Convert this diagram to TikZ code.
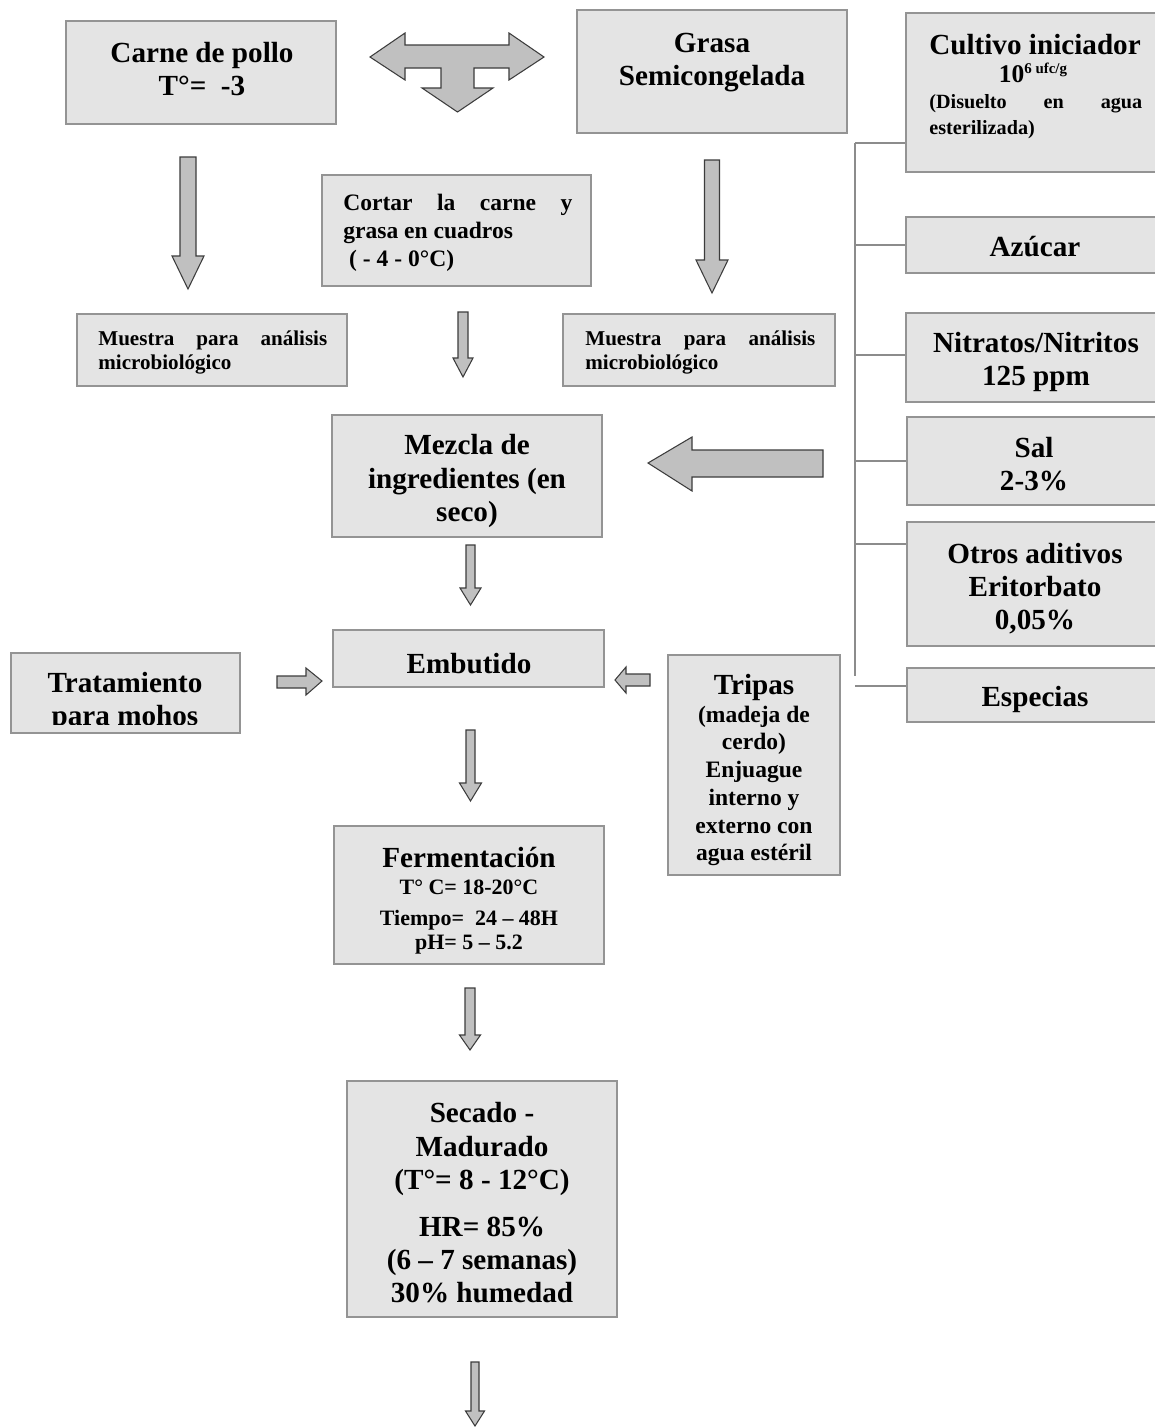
\documentclass[tikz,border=0pt]{standalone}
\usepackage{fontspec}
\setmainfont{Liberation Serif}
\usetikzlibrary{fit}
\definecolor{boxfill}{HTML}{E4E4E4}
\definecolor{boxline}{HTML}{949494}
\definecolor{arrfill}{HTML}{C0C0C0}
\definecolor{arrline}{HTML}{3C3C3C}
\definecolor{busline}{HTML}{8C8C8C}
\newcommand\fBig{\fontsize{16.6}{18.8}\selectfont}
\newcommand\fMed{\fontsize{13.4}{15.8}\selectfont}
\newcommand\fSm{\fontsize{12}{13.7}\selectfont}
\newcommand\procbox[5]{\node[box,fit={(#2,#3) (#4,#5)}] (#1) {};}
% down block arrow: x, ytop, yheadbase, ytip, shaft half width, head half width
\newcommand\downblk[6]{\draw[blk] (#1-#5,#2) -- (#1+#5,#2) -- (#1+#5,#3) -- (#1+#6,#3) -- (#1,#4) -- (#1-#6,#3) -- (#1-#5,#3) -- cycle;}
\begin{document}
\begin{tikzpicture}[x=0.02cm,y=-0.02cm,
  box/.style={draw=boxline,fill=boxfill,line width=0.8pt,inner sep=0pt},
  txt/.style={inner sep=0pt,align=center},
  txl/.style={inner sep=0pt,align=left,anchor=west},
  big/.style={font=\bfseries\fBig},
  med/.style={font=\bfseries\fMed},
  sml/.style={font=\bfseries\fSm},
  blk/.style={draw=arrline,fill=arrfill,line width=0.6pt,line join=miter},
  bus/.style={draw=busline,line width=0.7pt}]
\useasboundingbox[fill=white] (0,0) rectangle (1155,1427);

% ---------- boxes ----------
\procbox{carne}{66}{21}{336}{124}
\procbox{grasa}{577}{10}{847}{133}
\procbox{cultivo}{906}{13}{1162}{172}
\procbox{azucar}{906}{217}{1162}{273}
\procbox{nitratos}{906}{313}{1162}{402}
\procbox{sal}{907}{417}{1162}{505}
\procbox{otros}{907}{522}{1162}{646}
\procbox{especias}{907}{668}{1162}{722}
\procbox{cortar}{322}{175}{591}{286}
\procbox{muestraL}{77}{314}{347}{386}
\procbox{muestraR}{563}{314}{835}{386}
\procbox{mezcla}{332}{415}{602}{537}
\procbox{embutido}{333}{630}{604}{687}
\procbox{tratamiento}{11}{653}{240}{733}
\procbox{tripas}{668}{655}{840}{875}
\procbox{ferm}{334}{826}{604}{964}
\procbox{secado}{347}{1081}{617}{1317}

% ---------- texts ----------
\node[txt,big] (carneT) at (202,69) {Carne de pollo\\T°= \ -3};
\node[txt,big] (grasaT) at (712,62.5) {Grasa\\Semicongelada};
\node[txt,big] (cultivoT) at (1035,45) {Cultivo iniciador};
\node[txt,anchor=base,font=\bfseries\fontsize{14.5}{16}\selectfont] (cultivoN) at (1033,82) {10\raisebox{5pt}{\fontsize{8.5}{9}\selectfont 6 ufc/g}};
\node[txl,font=\bfseries\fontsize{11.5}{14.8}\selectfont] (cultivoD) at (929,117) {\makebox[4.26cm][s]{(Disuelto en agua}\\esterilizada)};
\node[txt,big] (azucarT) at (1035,247) {Azúcar};
\node[txt,big] (nitratosT) at (1036,362) {Nitratos/Nitritos\\125 ppm};
\node[txt,big] (salT) at (1034,464) {Sal\\2-3\%};
\node[txt,big] (otrosT) at (1035,588.5) {Otros aditivos\\Eritorbato\\0,05\%};
\node[txt,big] (especiasT) at (1035,699) {Especias};
\node[txl,font=\bfseries\fontsize{13.4}{16}\selectfont] (cortarT) at (343,233) {\makebox[4.58cm][s]{Cortar la carne y}\\grasa en cuadros\\\ ( - 4 - 0°C)};
\node[txl,sml] (muestraLT) at (98,352.5) {\makebox[4.58cm][s]{Muestra para análisis}\\microbiológico};
\node[txl,sml] (muestraRT) at (585,352.5) {\makebox[4.6cm][s]{Muestra para análisis}\\microbiológico};
\node[txt,big] (mezclaT) at (467,481) {Mezcla de\\ingredientes (en\\seco)};
\node[txt,big] (embutidoT) at (469,664) {Embutido};
\begin{scope}
  \clip (11,653) rectangle (240,724);
  \node[txt,big] (tratamientoT) at (125,701.5) {Tratamiento\\para mohos};
\end{scope}
\node[txt,big] (tripasT) at (754,687) {Tripas};
\node[txt,med] (tripasD) at (754,786) {(madeja de\\cerdo)\\Enjuague\\interno y\\externo con\\agua estéril};
\node[txt,big] (fermT) at (469,857.5) {Fermentación};
\node[txt,font=\bfseries\fontsize{12.5}{13.5}\selectfont] (fermD) at (469,917) {T° C= 18-20°C\\[3.8pt]Tiempo= \ 24 – 48H\\pH= 5 – 5.2};
\node[txt,big] (secadoA) at (482,1149) {Secado -\\Madurado\\(T°= 8 - 12°C)};
\node[txt,big] (secadoB) at (482,1260) {HR= 85\%\\(6 – 7 semanas)\\30\% humedad};

% ---------- bus lines ----------
\coordinate (busT) at (855,143);
\coordinate (busB) at (855,676);
\draw[bus] (busT) -- (busB);
\draw[bus] (busT) -- (busT -| cultivo.west);
\draw[bus] (busT |- azucar.west) -- (azucar.west);
\draw[bus] (855,355) -- (nitratos.west |- 0,355);
\draw[bus] (busT |- sal.west) -- (sal.west);
\draw[bus] (855,544) -- (otros.west |- 0,544);
\draw[bus] (855,686) -- (especias.west |- 0,686);

% ---------- block arrows ----------
% three-way arrow between carne and grasa
\draw[blk] (370,57) -- (405,33) -- (405,45) -- (509,45) -- (509,33) -- (544,57)
  -- (509,80) -- (509,68) -- (474,68) -- (474,88) -- (493,88) -- (457.5,112)
  -- (422,88) -- (441,88) -- (441,68) -- (405,68) -- (405,80) -- cycle;
\downblk{188}{157}{256}{289}{8}{16}
\downblk{712}{160}{260}{293}{7.5}{16}
\downblk{463}{312}{358}{377}{5}{10}
\downblk{470.5}{545}{588}{605}{4.5}{10.5}
\downblk{470.5}{730}{783}{801}{4.5}{11}
\downblk{470}{988}{1035}{1050}{5}{10.5}
\downblk{475}{1362}{1411}{1426}{4}{9.5}
% big arrow into mezcla
\draw[blk] (648,463) -- (692,437) -- (692,450) -- (823,450) -- (823,477) -- (692,477) -- (692,491) -- cycle;
% tratamiento -> embutido
\draw[blk] (277,676) -- (306,676) -- (306,668) -- (322,681) -- (306,695) -- (306,688) -- (277,688) -- cycle;
% tripas -> embutido
\draw[blk] (615,680) -- (626,667) -- (626,674) -- (650,674) -- (650,686) -- (626,686) -- (626,693) -- cycle;
\end{tikzpicture}
\end{document}
